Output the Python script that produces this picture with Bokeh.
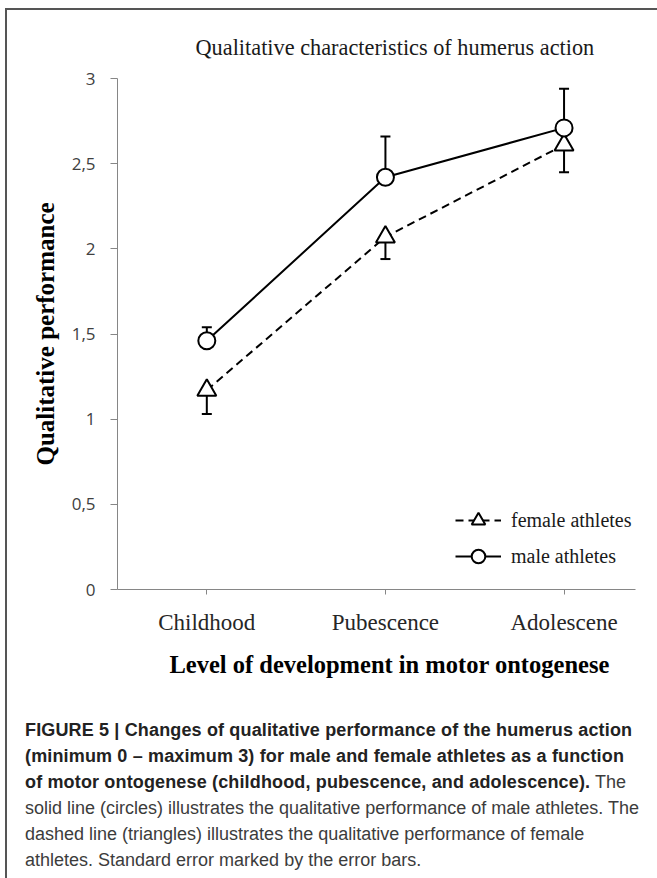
from bokeh.plotting import figure
from bokeh.models import Range1d, FixedTicker, Legend, LegendItem, Div, Title
from bokeh.layouts import column
from bokeh.embed import file_html
from bokeh.resources import INLINE

# ---- data ----
categories = ["Childhood", "Pubescence", "Adolescene"]
male_mean = [1.46, 2.42, 2.71]
male_se = [0.08, 0.24, 0.23]
female_mean = [1.17, 2.07, 2.61]
female_se = [0.14, 0.13, 0.16]
y_ticks = [0, 0.5, 1, 1.5, 2, 2.5, 3]
y_tick_labels = ["0", "0,5", "1", "1,5", "2", "2,5", "3"]

title_text = "Qualitative characteristics of humerus action"
x_title = "Level of development in motor ontogenese"
y_title = "Qualitative performance"

xs = list(range(len(categories)))
male_hi = [m + s for m, s in zip(male_mean, male_se)]
female_lo = [m - s for m, s in zip(female_mean, female_se)]

AX = "#868686"
SERIF = "Liberation Serif"

p = figure(width=644, height=698,
           x_range=Range1d(-0.5, 2.4), y_range=Range1d(0, 3),
           output_backend="svg", toolbar_location=None,
           min_border_left=110, min_border_right=16,
           min_border_top=68, min_border_bottom=119)
p.outline_line_color = None
p.xgrid.visible = False
p.ygrid.visible = False
p.background_fill_color = "white"
p.border_fill_color = "white"

tt = Title(text=title_text, align="left", offset=78, standoff=38,
           text_font=SERIF, text_font_size="22.3px", text_font_style="normal",
           text_color="#1a1a1a")
p.add_layout(tt, "above")

# x axis
xa = p.xaxis[0]
xa.ticker = FixedTicker(ticks=xs)
xa.major_label_overrides = {i: c for i, c in enumerate(categories)}
xa.minor_tick_line_color = None
xa.major_tick_out = 5
xa.major_tick_in = 0
xa.axis_line_color = AX
xa.major_tick_line_color = AX
xa.major_label_text_font = SERIF
xa.major_label_text_font_size = "23px"
xa.major_label_text_color = "#262626"
xa.major_label_standoff = 15

xt = Title(text=x_title, align="left", offset=52, standoff=22,
           text_font=SERIF, text_font_size="24.5px", text_font_style="bold",
           text_color="black")
p.add_layout(xt, "below")

# y axis
ya = p.yaxis[0]
ya.ticker = FixedTicker(ticks=y_ticks)
ya.major_label_overrides = {t: l for t, l in zip(y_ticks, y_tick_labels)}
ya.minor_tick_line_color = None
ya.major_tick_out = 7
ya.major_tick_in = 0
ya.axis_line_color = AX
ya.major_tick_line_color = AX
ya.major_label_text_font = "Open Sans"
ya.major_label_text_font_size = "17px"
ya.major_label_text_color = "#404040"
ya.major_label_standoff = 15
ya.axis_label = y_title
ya.axis_label_text_font = SERIF
ya.axis_label_text_font_size = "25px"
ya.axis_label_text_font_style = "bold"
ya.axis_label_text_color = "black"
ya.axis_label_standoff = 10

# lines
f_line = p.line(xs, female_mean, line_color="black", line_width=2, line_dash="8 5")
m_line = p.line(xs, male_mean, line_color="black", line_width=2)

# error bars (female: lower, male: upper)
p.segment(x0=xs, y0=female_mean, x1=xs, y1=female_lo, line_color="black", line_width=2)
p.scatter(x=xs, y=female_lo, marker="dash", size=10, line_color="black", line_width=2)
p.segment(x0=xs, y0=male_mean, x1=xs, y1=male_hi, line_color="black", line_width=2)
p.scatter(x=xs, y=male_hi, marker="dash", size=10, line_color="black", line_width=2)

# markers
f_pts = p.scatter(xs, female_mean, marker="triangle", size=19, fill_color="white",
                  line_color="black", line_width=2)
m_pts = p.scatter(xs, male_mean, marker="circle", size=17, fill_color="white",
                  line_color="black", line_width=2)

legend = Legend(items=[LegendItem(label="female athletes", renderers=[f_line, f_pts]),
                       LegendItem(label="male athletes", renderers=[m_line, m_pts])],
                location=(338, 16), orientation="vertical",
                glyph_width=46, glyph_height=34, label_height=34, spacing=2,
                label_standoff=10, padding=0, margin=0,
                border_line_color=None, background_fill_alpha=0,
                label_text_font=SERIF, label_text_font_size="20px",
                label_text_color="#1a1a1a")
p.add_layout(legend)

caption_html = (
    '<div style="padding:4px 0 0 13px; font-family: \'Liberation Sans\', Arial, sans-serif; '
    'font-size:18px; line-height:26px; color:#3c3c3c; white-space:nowrap;">'
    '<b style="color:#222; letter-spacing:0.15px;">FIGURE 5 | Changes of qualitative performance of the humerus action<br>'
    '(minimum 0 \u2013 maximum 3) for male and female athletes as a function<br>'
    'of motor ontogenese (childhood, pubescence, and adolescence).</b> The<br>'
    'solid line (circles) illustrates the qualitative performance of male athletes. The<br>'
    'dashed line (triangles) illustrates the qualitative performance of female<br>'
    'athletes. Standard error marked by the error bars.</div>'
)
cap = Div(text=caption_html, width=644, height=161)

layout = column(p, cap, spacing=0, margin=(8, 0, 0, 5),
                styles={"border": "2px solid #555", "border-bottom": "none",
                        "background-color": "white"})

open("out.html", "w").write(file_html(layout, INLINE))
